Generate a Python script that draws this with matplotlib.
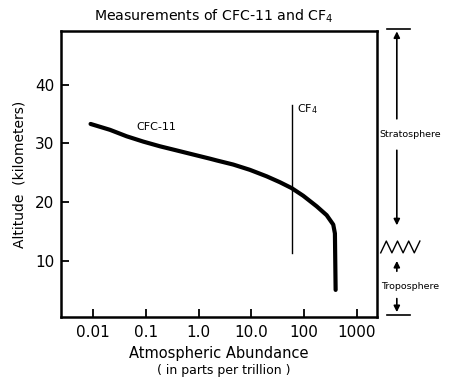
import numpy as np
import matplotlib
matplotlib.use("Agg")
import matplotlib.pyplot as plt
import matplotlib.ticker as mticker
import matplotlib.transforms as mtransforms

plt.rcParams['font.family'] = ['DejaVu Sans']
plt.rcParams['mathtext.default'] = 'regular'

# CFC-11 profile (abundance in ppt, altitude in km)
cfc_abund = [0.0090, 0.021, 0.0435, 0.0897, 0.186, 0.385, 0.794, 1.64, 2.2, 4.54,
             9.4, 19.5, 34.7, 58, 96, 173, 267, 356, 383, 395]
cfc_alt = [33.3, 32.3, 31.2, 30.3, 29.5, 28.8, 28.1, 27.4, 27.1, 26.4,
           25.5, 24.4, 23.4, 22.4, 21.1, 19.3, 17.8, 16.2, 14.7, 5.1]

# CF4 vertical line
cf4_abund = [58, 58]
cf4_alt = [36.6, 11.4]

xticks = [0.01, 0.1, 1.0, 10.0, 100, 1000]
xticklabels = ['0.01', '0.1', '1.0', '10.0', '100', '1000']
yticks = [10, 20, 30, 40]

fig = plt.figure(figsize=(4.5, 3.86), dpi=100)
ax = fig.add_axes([0.1356, 0.1788, 0.702, 0.741])

ax.plot(cfc_abund, cfc_alt, color='black', lw=3.0, solid_capstyle='round',
        solid_joinstyle='round')
ax.plot(cf4_abund, cf4_alt, color='black', lw=1.0)

ax.set_xscale('log')
ax.set_xlim(0.00248, 2393)
ax.set_ylim(0.5, 49.1)
ax.set_xticks(xticks)
ax.xaxis.set_major_formatter(mticker.FixedFormatter(xticklabels))
ax.xaxis.set_minor_locator(mticker.NullLocator())
ax.set_yticks(yticks)
ax.tick_params(direction='in', length=6, width=1.3, labelsize=11, pad=5)
ax.tick_params(axis='x', pad=6)
for s in ax.spines.values():
    s.set_linewidth(1.8)

ax.text(0.16, 32.8, 'CFC-11', fontsize=8, ha='center', va='center')
ax.text(72, 35.9, 'CF$_4$', fontsize=8, ha='left', va='center')

fig.text(0.476, 0.958, 'Measurements of CFC-11 and CF$_4$', fontsize=10.2,
         ha='center', va='center')
ax.set_ylabel('Altitude  (kilometers)', fontsize=10, labelpad=6)
ax.set_xlabel('Atmospheric Abundance', fontsize=10.5, labelpad=4)
fig.text(0.498, 0.04, '( in parts per trillion )', fontsize=9,
         ha='center', va='center')

# troposphere / stratosphere markers to the right of the axes
tr = mtransforms.blended_transform_factory(ax.transAxes, ax.transData)
xc = 1.063
ax.plot([1.032, 1.104], [49.5, 49.5], color='black', lw=1.2, transform=tr, clip_on=False)
ax.plot([1.032, 1.104], [0.85, 0.85], color='black', lw=1.2, transform=tr, clip_on=False)
arrow = dict(arrowstyle='-|>', color='black', lw=1.2, mutation_scale=9)
ax.annotate('', xy=(xc, 49.5), xytext=(xc, 33.7), xycoords=tr, textcoords=tr, arrowprops=arrow)
ax.annotate('', xy=(xc, 15.6), xytext=(xc, 29.3), xycoords=tr, textcoords=tr, arrowprops=arrow)
ax.annotate('', xy=(xc, 10.5), xytext=(xc, 7.8), xycoords=tr, textcoords=tr, arrowprops=arrow)
ax.annotate('', xy=(xc, 0.85), xytext=(xc, 4.1), xycoords=tr, textcoords=tr, arrowprops=arrow)
ax.text(1.104, 31.5, 'Stratosphere', fontsize=6.8, ha='center', va='center', transform=tr)
ax.text(1.104, 5.6, 'Troposphere', fontsize=6.8, ha='center', va='center', transform=tr)
zx = np.linspace(1.012, 1.136, 8)
zy = [11.4, 13.4] * 4
ax.plot(zx, zy, color='black', lw=1.0, transform=tr, clip_on=False)

fig.savefig('out.png', dpi=100)
